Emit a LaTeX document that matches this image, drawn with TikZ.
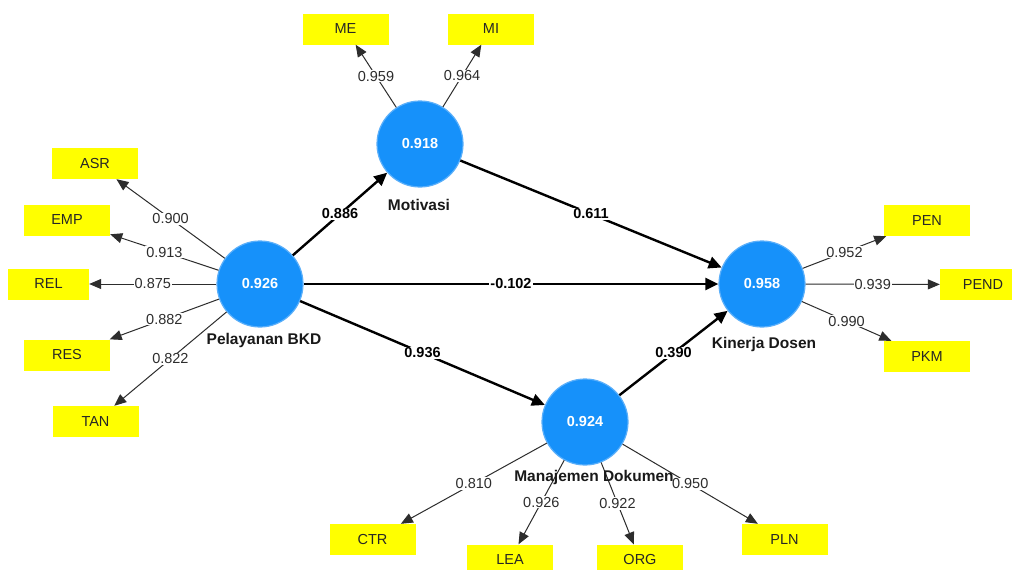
\documentclass[tikz,border=0pt]{standalone}
\usepackage{fontspec}
\setmainfont{Liberation Sans}
\usetikzlibrary{arrows.meta}
\definecolor{lvblue}{RGB}{22,145,250}
\definecolor{lvedge}{RGB}{90,175,250}
\definecolor{ind}{RGB}{255,255,0}
\definecolor{ltxt}{RGB}{45,45,45}
\begin{document}
\begin{tikzpicture}[x=1pt,y=-1pt,
  lv/.style={circle,fill=lvblue,draw=lvedge,line width=1.2pt,minimum size=86pt,inner sep=0pt,
    text=white,font=\fontsize{14.5}{16}\selectfont\bfseries},
  indbox/.style={rectangle,fill=ind,draw=none,minimum width=86pt,minimum height=31pt,inner sep=0pt,
    text=black!85,font=\fontsize{14.5}{16}\selectfont},
  lvname/.style={font=\fontsize{15.5}{17}\selectfont\bfseries,text=black!90},
  load/.style={draw=ltxt,line width=1pt,-{Triangle[length=12pt,width=10pt]}},
  path/.style={draw=black,line width=2.4pt,-{Triangle[length=13pt,width=12pt]}},
  lw/.style={fill=white,inner sep=1pt,text=ltxt,font=\fontsize{14.5}{16}\selectfont},
  pw/.style={fill=white,inner sep=1pt,text=black,font=\fontsize{14.5}{16}\selectfont\bfseries}]
\useasboundingbox (0,0) rectangle (1012,570);
\clip (0,0) rectangle (1012,570);
\fill[white] (0,0) rectangle (1012,570);
% latent variables
\node[lv] (pbkd) at (260,284) {0.926};
\node[lv] (mot) at (420,144) {0.918};
\node[lv] (kd) at (762,284) {0.958};
\node[lv] (md) at (585,422) {0.924};
% indicator boxes
\node[indbox] (asr) at (95,163.5) {ASR};
\node[indbox] (emp) at (67,220) {EMP};
\node[indbox,minimum width=81pt] (rel) at (48.5,284) {REL};
\node[indbox] (res) at (67,355) {RES};
\node[indbox] (tan) at (95.5,421.5) {TAN};
\node[indbox] (me) at (345.5,29) {ME};
\node[indbox] (mi) at (491,29) {MI};
\node[indbox] (pen) at (927,220.5) {PEN};
\node[indbox] (pend) at (983,284.5) {PEND};
\node[indbox] (pkm) at (927,356.5) {PKM};
\node[indbox] (ctr) at (372.5,539.5) {CTR};
\node[indbox] (lea) at (510,560) {LEA};
\node[indbox] (org) at (640,560) {ORG};
\node[indbox] (pln) at (784.5,539.5) {PLN};
% loadings
\draw[load] (pbkd) -- node[lw] {0.900} (asr);
\draw[load] (pbkd) -- node[lw] {0.913} (emp);
\draw[load] (pbkd) -- node[lw] {0.875} (rel);
\draw[load] (pbkd) -- node[lw] {0.882} (res);
\draw[load] (pbkd) -- node[lw] {0.822} (tan);
\draw[load] (mot) -- node[lw] {0.959} (me);
\draw[load] (mot) -- node[lw] {0.964} (mi);
\draw[load] (kd) -- node[lw] {0.952} (pen);
\draw[load] (kd) -- node[lw] {0.939} (pend);
\draw[load] (kd) -- node[lw] {0.990} (pkm);
\draw[load] (md) -- node[lw] {0.810} (ctr);
\draw[load] (md) -- node[lw] {0.926} (lea);
\draw[load] (md) -- node[lw] {0.922} (org);
\draw[load] (md) -- node[lw] {0.950} (pln);
% structural paths
\draw[path] (pbkd) -- node[pw] {0.886} (mot);
\draw[path] (mot) -- node[pw] {0.611} (kd);
\draw[path] (pbkd) -- node[pw] {-0.102} (kd);
\draw[path] (pbkd) -- node[pw] {0.936} (md);
\draw[path] (md) -- node[pw] {0.390} (kd);
% names
\node[lvname] (pbkdname) at (264,340) {Pelayanan BKD};
\node[lvname] (motname) at (419,205) {Motivasi};
\node[lvname] (kdname) at (764,344) {Kinerja Dosen};
\node[lvname] (mdname) at (594,477) {Manajemen Dokumen};
\end{tikzpicture}
\end{document}
